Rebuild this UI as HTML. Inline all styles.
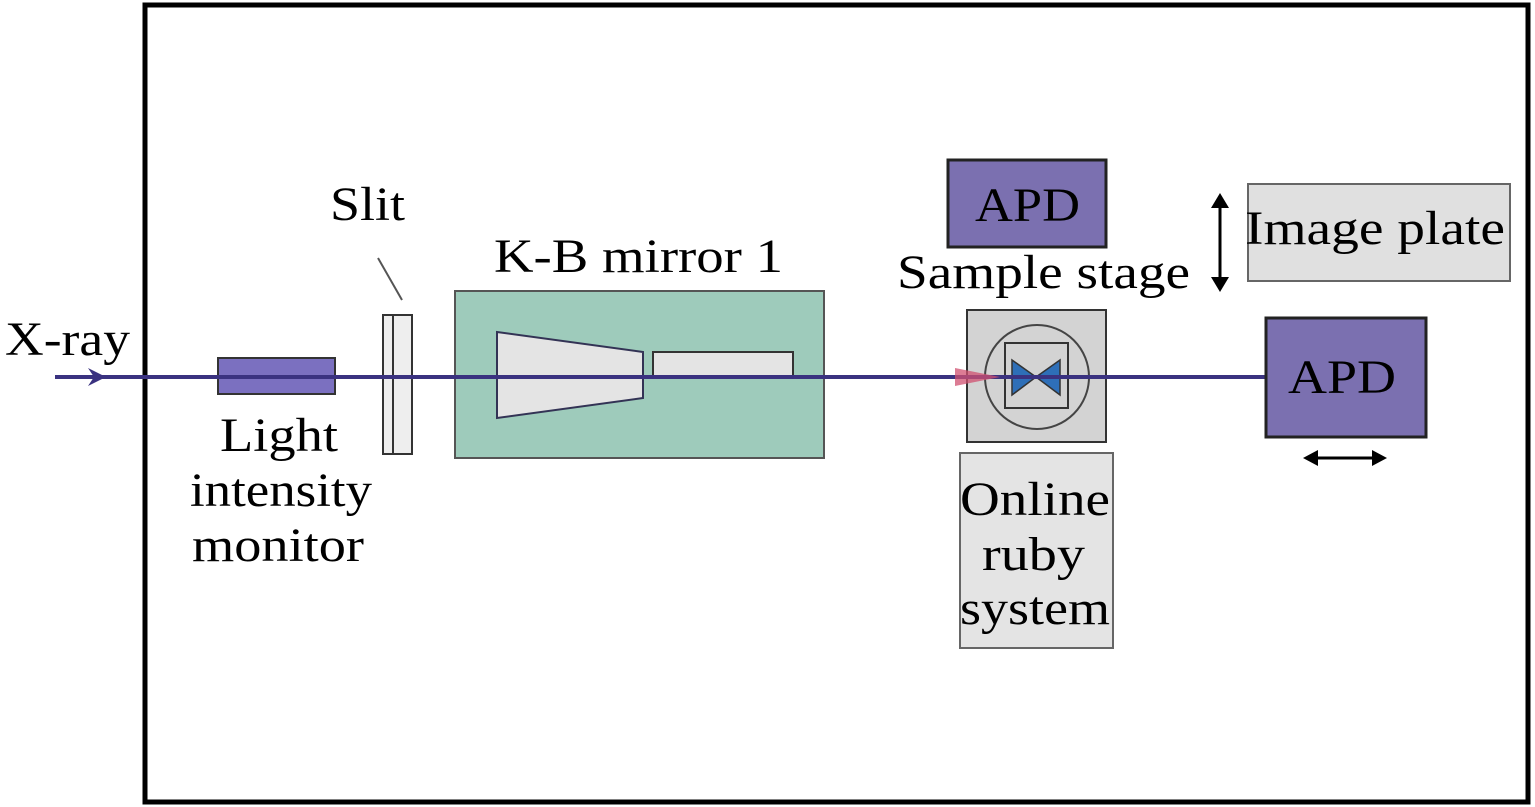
<!DOCTYPE html>
<html><head><style>html,body{margin:0;padding:0;background:#fff}svg{display:block}</style></head><body>
<svg width="1535" height="807" viewBox="0 0 1535 807" xmlns="http://www.w3.org/2000/svg" font-family="Liberation Serif, serif" font-size="48" fill="#000">
<rect x="145" y="5" width="1383" height="797" fill="#fff" stroke="#000" stroke-width="5"/>
<rect x="218" y="358" width="117" height="36" fill="#7b70c0" stroke="#333" stroke-width="2"/>
<rect x="383" y="315" width="10" height="139" fill="#eee" stroke="#333" stroke-width="2"/>
<rect x="393" y="315" width="19" height="139" fill="#eee" stroke="#333" stroke-width="2"/>
<line x1="378" y1="258" x2="402" y2="300" stroke="#555" stroke-width="2"/>
<rect x="455" y="291" width="369" height="167" fill="#9ecbbb" stroke="#555" stroke-width="2"/>
<polygon points="497,332 643,352 643,398 497,418" fill="#e4e4e4" stroke="#335" stroke-width="2"/>
<rect x="653" y="352" width="140" height="24" fill="#e4e4e4" stroke="#333" stroke-width="2"/>
<rect x="967" y="310" width="139" height="132" fill="#d3d3d3" stroke="#333" stroke-width="2"/>
<circle cx="1037" cy="377" r="52" fill="none" stroke="#444" stroke-width="2"/>
<rect x="1005" y="343" width="63" height="65" fill="none" stroke="#333" stroke-width="2"/>
<polygon points="1012,360 1036,377 1012,395" fill="#2e6fb8" stroke="#333" stroke-width="1.5"/>
<polygon points="1060,360 1036,377 1060,395" fill="#2e6fb8" stroke="#333" stroke-width="1.5"/>
<line x1="55" y1="377" x2="1266" y2="377" stroke="#3a3280" stroke-width="4"/>
<polygon points="88,368 106,377 88,386 94,377" fill="#3a3280"/>
<polygon points="955,368 1000,377 955,386" fill="#d05070" opacity="0.75"/>
<rect x="948" y="160" width="158" height="87" fill="#7b70b0" stroke="#222" stroke-width="3"/>
<text x="975" y="221" textLength="105" lengthAdjust="spacingAndGlyphs">APD</text>
<rect x="1248" y="184" width="262" height="97" fill="#e0e0e0" stroke="#666" stroke-width="2"/>
<text x="1245" y="244" textLength="260" lengthAdjust="spacingAndGlyphs">Image plate</text>
<line x1="1220" y1="205" x2="1220" y2="280" stroke="#000" stroke-width="3"/>
<polygon points="1211,208 1220,193 1229,208" fill="#000"/>
<polygon points="1211,277 1220,292 1229,277" fill="#000"/>
<rect x="1266" y="318" width="160" height="119" fill="#7b70b0" stroke="#222" stroke-width="3"/>
<text x="1288" y="393" textLength="108" lengthAdjust="spacingAndGlyphs">APD</text>
<line x1="1315" y1="458" x2="1375" y2="458" stroke="#000" stroke-width="3"/>
<polygon points="1318,450 1303,458 1318,466" fill="#000"/>
<polygon points="1372,450 1387,458 1372,466" fill="#000"/>
<rect x="960" y="453" width="153" height="195" fill="#e4e4e4" stroke="#666" stroke-width="2"/>
<text x="960" y="515" textLength="150" lengthAdjust="spacingAndGlyphs">Online</text>
<text x="982" y="570" textLength="103" lengthAdjust="spacingAndGlyphs">ruby</text>
<text x="960" y="624" textLength="150" lengthAdjust="spacingAndGlyphs">system</text>
<text x="5" y="355" textLength="125" lengthAdjust="spacingAndGlyphs">X-ray</text>
<text x="330" y="220" textLength="75" lengthAdjust="spacingAndGlyphs">Slit</text>
<text x="494" y="272" textLength="289" lengthAdjust="spacingAndGlyphs">K-B mirror 1</text>
<text x="897" y="288" textLength="293" lengthAdjust="spacingAndGlyphs">Sample stage</text>
<text x="220" y="451" textLength="118" lengthAdjust="spacingAndGlyphs">Light</text>
<text x="190" y="506" textLength="182" lengthAdjust="spacingAndGlyphs">intensity</text>
<text x="192" y="561" textLength="172" lengthAdjust="spacingAndGlyphs">monitor</text>
</svg>
</body></html>
